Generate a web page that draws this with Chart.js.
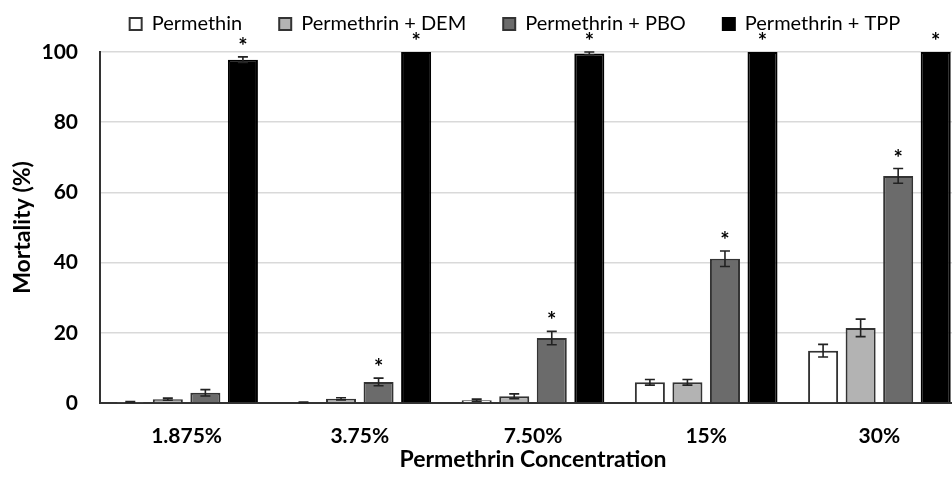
<!DOCTYPE html>
<html>
<head>
<meta charset="utf-8">
<script src="https://cdn.jsdelivr.net/npm/chart.js@4.4.1/dist/chart.umd.min.js"></script>
<style>
  html, body { margin: 0; padding: 0; overflow: hidden; background: #fff; width: 952px; height: 479px; }
  #wrap { width: 966px; height: 479px; }
</style>
</head>
<body>
<div id="wrap"><canvas id="c" width="966" height="479"></canvas></div>
<script>
// Data
const concentrations = ['1.875%', '3.75%', '7.50%', '15%', '30%'];
const seriesNames = ['Permethin', 'Permethrin + DEM', 'Permethrin + PBO', 'Permethrin + TPP'];

const permethrin    = [0.3, 0.2, 0.8, 5.9, 14.9];
const permethrinErr = [0.1, 0.1, 0.3, 0.8, 1.8];
const dem           = [1.1, 1.2, 1.9, 5.9, 21.4];
const demErr        = [0.3, 0.3, 0.7, 0.8, 2.5];
const pbo           = [2.9, 6.0, 18.5, 41.1, 64.7];
const pboErr        = [0.9, 1.1, 1.9, 2.2, 2.1];
const tpp           = [97.8, 100, 99.6, 100, 100];
const tppErr        = [0.8, 0, 0.4, 0, 0];

const pboStar = [false, true, true, true, true];
const tppStar = [true, true, true, true, true];
const noStar  = [false, false, false, false, false];

const yTicks = [0, 20, 40, 60, 80, 100];

const FONT = 'Lato, "Open Sans", sans-serif';

// error bars + significance asterisks
const errorBarPlugin = {
  id: 'errorBars',
  afterDatasetsDraw(chart) {
    const ctx = chart.ctx, ys = chart.scales.y;
    ctx.save();
    chart.data.datasets.forEach((ds, i) => {
      const meta = chart.getDatasetMeta(i);
      meta.data.forEach((bar, j) => {
        const v = ds.data[j], e = ds.errors[j];
        const x = bar.x;
        const yTop = ys.getPixelForValue(v + e);
        if (e > 0) {
          const yBot = ys.getPixelForValue(Math.max(0, v - e));
          ctx.strokeStyle = '#222';
          ctx.lineWidth = 1.6;
          ctx.beginPath();
          ctx.moveTo(x, yTop); ctx.lineTo(x, yBot);
          ctx.moveTo(x - 5, yTop); ctx.lineTo(x + 5, yTop);
          ctx.moveTo(x - 5, yBot); ctx.lineTo(x + 5, yBot);
          ctx.stroke();
        }
        if (ds.stars[j]) {
          ctx.fillStyle = '#000';
          ctx.font = 'bold 22px ' + FONT;
          ctx.textAlign = 'center';
          ctx.textBaseline = 'middle';
          ctx.fillText('*', x, yTop - 10);
        }
      });
    });
    ctx.restore();
  }
};

// the original legend is centred on a wider figure than what is visible
const legendShift = {
  id: 'legendShift',
  afterLayout(chart) {
    const l = chart.legend;
    if (l) { l.left += 32; l.right += 32; }
  }
};

const barStyle = { borderColor: '#333333', borderWidth: 2, categoryPercentage: 0.867, barPercentage: 0.8 };

new Chart(document.getElementById('c'), {
  type: 'bar',
  data: {
    labels: concentrations,
    datasets: [
      { label: seriesNames[0], data: permethrin, errors: permethrinErr, stars: noStar,  backgroundColor: '#ffffff', ...barStyle },
      { label: seriesNames[1], data: dem,        errors: demErr,        stars: noStar,  backgroundColor: '#b3b3b3', ...barStyle },
      { label: seriesNames[2], data: pbo,        errors: pboErr,        stars: pboStar, backgroundColor: '#6b6b6b', ...barStyle },
      { label: seriesNames[3], data: tpp,        errors: tppErr,        stars: tppStar, backgroundColor: '#000000', ...barStyle, borderColor: '#000000' }
    ]
  },
  options: {
    responsive: false,
    animation: false,
    devicePixelRatio: 1,
    layout: { padding: { top: -23, right: 0, left: 0, bottom: 0 } },
    plugins: {
      legend: {
        position: 'top',
        labels: { color: '#000', boxWidth: 12, boxHeight: 12, padding: 37, font: { family: FONT, size: 20 } }
      },
      subtitle: { display: true, text: '', weight: 500, padding: 0, font: { size: 8, lineHeight: 1 } },
      tooltip: { enabled: false }
    },
    scales: {
      x: {
        grid: { display: false },
        border: { color: '#333', width: 2 },
        ticks: { color: '#000', padding: 13, font: { family: FONT, size: 21, weight: 'bold' } },
        title: { display: true, text: 'Permethrin Concentration', color: '#000', padding: { top: 0, bottom: 6 }, font: { family: FONT, size: 23, weight: 'bold' } },
        afterFit(scale) { scale.height = 76; }
      },
      y: {
        min: 0, max: 100,
        afterBuildTicks(scale) { scale.ticks = yTicks.map(v => ({ value: v })); },
        grid: { color: '#d9d9d9', lineWidth: 1.5, drawTicks: false },
        border: { color: '#333', width: 2 },
        ticks: { color: '#000', padding: 22, font: { family: FONT, size: 21, weight: 'bold' } },
        title: { display: true, text: 'Mortality (%)', color: '#000', padding: { top: 9, bottom: 0 }, font: { family: FONT, size: 23, weight: 'bold' } },
        afterFit(scale) { scale.width = 100; }
      }
    }
  },
  plugins: [errorBarPlugin, legendShift]
});
</script>
</body>
</html>
